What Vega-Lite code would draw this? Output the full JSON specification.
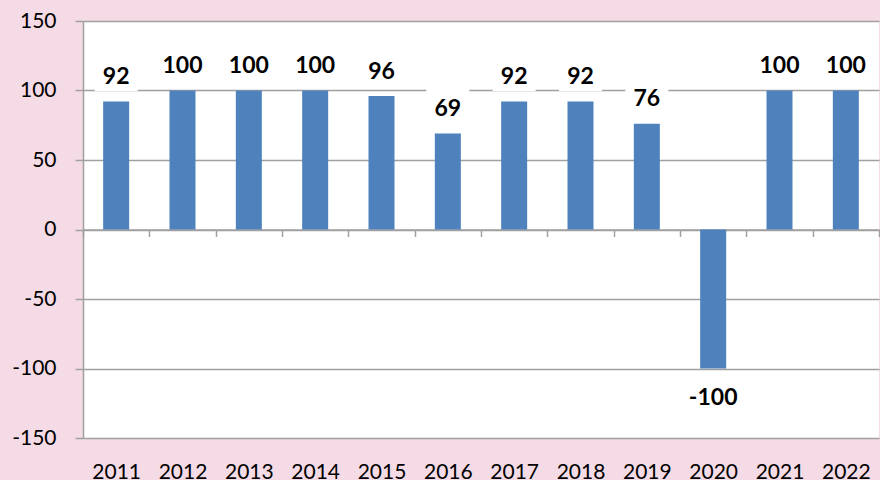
{
  "$schema": "https://vega.github.io/schema/vega-lite/v6.json",
  "width": 796,
  "height": 417,
  "autosize": "none",
  "padding": {"left": 83, "top": 21, "right": 1, "bottom": 42},
  "background": "#F5DBE5",
  "config": {"view": {"fill": "white", "stroke": null}, "font": "Lato"},
  "data": {
    "values": [
      {"year": "2011", "value": 92},
      {"year": "2012", "value": 100},
      {"year": "2013", "value": 100},
      {"year": "2014", "value": 100},
      {"year": "2015", "value": 96},
      {"year": "2016", "value": 69},
      {"year": "2017", "value": 92},
      {"year": "2018", "value": 92},
      {"year": "2019", "value": 76},
      {"year": "2020", "value": -100},
      {"year": "2021", "value": 100},
      {"year": "2022", "value": 100}
    ]
  },
  "encoding": {
    "x": {
      "field": "year",
      "type": "ordinal",
      "scale": {"paddingInner": 0, "paddingOuter": 0},
      "axis": {
        "title": null,
        "orient": "bottom",
        "offset": -208.5,
        "domainColor": "#A0A0A0",
        "domainWidth": 1.5,
        "tickColor": "#A0A0A0",
        "tickWidth": 1.5,
        "tickSize": 7,
        "tickBand": "extent",
        "labelAngle": 0,
        "labelPadding": 225,
        "labelBaseline": "top",
        "labelFont": "Lato",
        "labelFontSize": 21,
        "labelColor": "#000000",
        "grid": false
      }
    },
    "y": {
      "field": "value",
      "type": "quantitative",
      "scale": {"domain": [-150, 150], "nice": false},
      "axis": {
        "title": null,
        "values": [-150, -100, -50, 0, 50, 100, 150],
        "labelExpr": "datum.value + ''",
        "grid": true,
        "gridColor": "#A0A0A0",
        "gridWidth": 1.5,
        "domainColor": "#A0A0A0",
        "domainWidth": 1.5,
        "tickColor": "#A0A0A0",
        "tickWidth": 1.5,
        "tickSize": 8,
        "labelPadding": 19,
        "labelFont": "Lato",
        "labelFontSize": 21,
        "labelColor": "#000000"
      }
    }
  },
  "layer": [
    {
      "mark": {"type": "bar", "size": 26, "color": "#4F81BD"}
    },
    {
      "transform": [{"filter": "datum.value > 0"}],
      "mark": {
        "type": "point",
        "shape": "M-1,-0.837L1,-0.837L1,0.837L-1,0.837Z",
        "size": 1849,
        "filled": true,
        "color": "#FFFFFF",
        "opacity": 1,
        "strokeWidth": 0,
        "yOffset": -28.5
      }
    },
    {
      "transform": [{"filter": "datum.value > 0"}],
      "mark": {
        "type": "text",
        "dy": -17.5,
        "baseline": "alphabetic",
        "font": "Lato",
        "fontSize": 23,
        "fontWeight": "bold",
        "color": "#000000"
      },
      "encoding": {"text": {"field": "value", "type": "nominal"}}
    },
    {
      "transform": [{"filter": "datum.value < 0"}],
      "mark": {
        "type": "text",
        "dy": 36,
        "baseline": "alphabetic",
        "font": "Lato",
        "fontSize": 23,
        "fontWeight": "bold",
        "color": "#000000"
      },
      "encoding": {"text": {"field": "value", "type": "nominal"}}
    }
  ]
}
